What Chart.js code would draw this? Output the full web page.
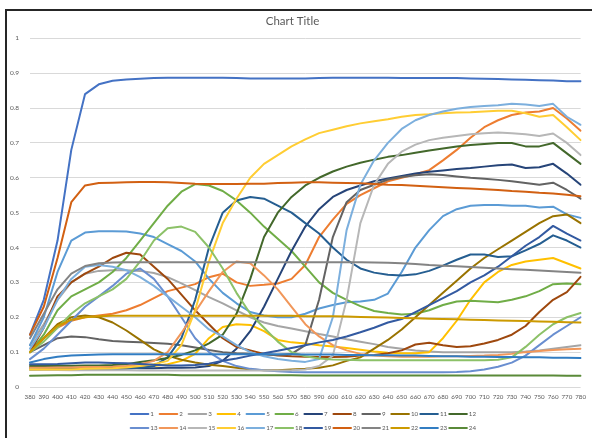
<!DOCTYPE html>
<html>
<head>
<meta charset="utf-8">
<script src="https://cdn.jsdelivr.net/npm/chart.js@4.4.1/dist/chart.umd.min.js"></script>
<style>
  html, body { margin: 0; padding: 0; background: #ffffff; overflow: hidden; }
  #wrap { position: relative; width: 592px; height: 438px; overflow: hidden; }
  #frame { position: absolute; left: 5px; top: 9px; width: 640px; height: 480px; border: 2px solid #262626; box-sizing: border-box; }
  #c { position: absolute; left: 0; top: 0; }
</style>
</head>
<body>
<div id="wrap">
  <div id="frame"></div>
  <canvas id="c" width="592" height="438"></canvas>
</div>
<script>
const wavelengths = [380,390,400,410,420,430,440,450,460,470,480,490,500,510,520,530,540,550,560,570,580,590,600,610,620,630,640,650,660,670,680,690,700,710,720,730,740,750,760,770,780];

const seriesNames = ['1','2','3','4','5','6','7','8','9','10','11','12','13','14','15','16','17','18','19','20','21','22','23','24'];

const s1 = [0.15,0.25,0.42,0.68,0.84,0.868,0.878,0.882,0.884,0.886,
  0.887,0.887,0.887,0.887,0.887,0.886,0.885,0.885,0.885,0.885,
  0.885,0.886,0.887,0.887,0.887,0.887,0.887,0.886,0.886,0.886,
  0.886,0.886,0.885,0.884,0.883,0.882,0.881,0.88,0.879,0.877,
  0.877];
const s2 = [0.1,0.14,0.17,0.19,0.2,0.205,0.21,0.22,0.235,0.255,
  0.275,0.285,0.295,0.315,0.325,0.3,0.29,0.293,0.297,0.31,
  0.35,0.43,0.48,0.525,0.55,0.57,0.59,0.6,0.61,0.622,
  0.65,0.68,0.715,0.745,0.765,0.78,0.787,0.79,0.8,0.77,
  0.735];
const s3 = [0.12,0.18,0.25,0.3,0.325,0.333,0.335,0.335,0.333,0.327,
  0.315,0.297,0.278,0.258,0.24,0.22,0.2,0.185,0.175,0.168,
  0.16,0.152,0.145,0.137,0.13,0.123,0.115,0.11,0.105,0.102,
  0.1,0.1,0.1,0.1,0.1,0.1,0.102,0.105,0.11,0.115,
  0.12];
const s4 = [0.05,0.05,0.052,0.052,0.053,0.053,0.054,0.055,0.057,0.06,
  0.065,0.075,0.095,0.14,0.172,0.18,0.178,0.16,0.135,0.128,
  0.125,0.12,0.116,0.112,0.107,0.102,0.098,0.097,0.097,0.1,
  0.14,0.19,0.25,0.3,0.33,0.35,0.36,0.365,0.37,0.355,
  0.34];
const s5 = [0.12,0.2,0.33,0.42,0.443,0.447,0.447,0.446,0.44,0.43,
  0.41,0.39,0.36,0.31,0.27,0.24,0.215,0.205,0.2,0.2,
  0.21,0.225,0.235,0.243,0.245,0.25,0.268,0.33,0.4,0.45,
  0.49,0.51,0.52,0.522,0.522,0.52,0.52,0.515,0.517,0.495,
  0.485];
const s6 = [0.1,0.15,0.22,0.26,0.28,0.3,0.33,0.37,0.42,0.47,
  0.52,0.56,0.582,0.578,0.562,0.535,0.5,0.46,0.425,0.39,
  0.345,0.3,0.27,0.25,0.232,0.218,0.212,0.208,0.21,0.22,
  0.235,0.245,0.247,0.245,0.243,0.25,0.26,0.275,0.295,0.297,
  0.295];
const s7 = [0.055,0.056,0.056,0.055,0.054,0.054,0.055,0.055,0.054,0.054,
  0.055,0.055,0.056,0.06,0.075,0.11,0.16,0.23,0.31,0.39,
  0.46,0.51,0.545,0.565,0.578,0.59,0.598,0.605,0.612,0.617,
  0.621,0.625,0.628,0.632,0.636,0.638,0.628,0.63,0.64,0.612,
  0.58];
const s8 = [0.1,0.17,0.26,0.3,0.325,0.345,0.37,0.385,0.38,0.345,
  0.31,0.265,0.22,0.18,0.14,0.115,0.105,0.095,0.09,0.088,
  0.087,0.086,0.086,0.087,0.09,0.092,0.097,0.105,0.122,0.127,
  0.12,0.115,0.117,0.125,0.135,0.15,0.175,0.215,0.25,0.272,
  0.316];
const s9 = [0.1,0.12,0.14,0.145,0.143,0.137,0.132,0.13,0.128,0.126,
  0.124,0.12,0.113,0.106,0.1,0.097,0.095,0.093,0.092,0.095,
  0.12,0.25,0.43,0.53,0.565,0.58,0.595,0.602,0.607,0.61,
  0.608,0.604,0.6,0.597,0.594,0.59,0.585,0.58,0.586,0.565,
  0.54];
const s10 = [0.1,0.14,0.18,0.2,0.205,0.2,0.185,0.162,0.135,0.108,
  0.09,0.078,0.07,0.064,0.06,0.055,0.05,0.048,0.048,0.05,
  0.052,0.055,0.062,0.075,0.085,0.11,0.135,0.165,0.2,0.235,
  0.27,0.305,0.34,0.37,0.395,0.42,0.445,0.47,0.49,0.495,
  0.47];
const s11 = [0.05,0.05,0.05,0.05,0.05,0.05,0.051,0.052,0.055,0.06,
  0.085,0.14,0.25,0.4,0.5,0.535,0.545,0.54,0.52,0.5,
  0.47,0.44,0.4,0.365,0.34,0.328,0.322,0.32,0.323,0.333,
  0.348,0.365,0.38,0.38,0.373,0.375,0.392,0.41,0.435,0.42,
  0.4];
const s12 = [0.06,0.06,0.061,0.061,0.062,0.062,0.063,0.065,0.072,0.077,
  0.083,0.092,0.105,0.125,0.15,0.21,0.31,0.43,0.5,0.545,
  0.578,0.6,0.618,0.632,0.643,0.652,0.66,0.665,0.672,0.678,
  0.684,0.69,0.694,0.697,0.7,0.7,0.69,0.69,0.7,0.67,
  0.64];
const s13 = [0.08,0.11,0.15,0.19,0.23,0.26,0.29,0.325,0.34,0.31,
  0.26,0.2,0.14,0.1,0.075,0.06,0.052,0.048,0.045,0.043,
  0.042,0.042,0.042,0.042,0.042,0.042,0.042,0.042,0.042,0.042,
  0.042,0.043,0.045,0.05,0.058,0.07,0.09,0.12,0.15,0.175,
  0.2];
const s14 = [0.055,0.055,0.056,0.056,0.057,0.057,0.058,0.06,0.065,0.075,
  0.1,0.155,0.215,0.275,0.33,0.36,0.355,0.32,0.28,0.23,
  0.18,0.145,0.12,0.105,0.095,0.09,0.088,0.087,0.087,0.087,
  0.088,0.088,0.089,0.09,0.092,0.095,0.1,0.103,0.106,0.108,
  0.11];
const s15 = [0.05,0.049,0.049,0.048,0.048,0.048,0.048,0.048,0.047,0.047,
  0.047,0.047,0.047,0.047,0.047,0.047,0.047,0.047,0.047,0.048,
  0.05,0.06,0.09,0.25,0.47,0.58,0.64,0.675,0.695,0.708,
  0.715,0.72,0.725,0.728,0.73,0.728,0.725,0.72,0.727,0.7,
  0.665];
const s16 = [0.05,0.05,0.05,0.05,0.052,0.053,0.054,0.056,0.06,0.065,
  0.075,0.12,0.22,0.36,0.47,0.54,0.6,0.64,0.665,0.69,
  0.71,0.728,0.738,0.748,0.756,0.762,0.768,0.775,0.78,0.782,
  0.785,0.787,0.788,0.79,0.792,0.792,0.785,0.775,0.78,0.745,
  0.708];
const s17 = [0.11,0.17,0.25,0.31,0.345,0.35,0.345,0.335,0.315,0.29,
  0.26,0.23,0.2,0.165,0.145,0.12,0.1,0.088,0.08,0.075,
  0.072,0.08,0.2,0.45,0.58,0.65,0.7,0.74,0.765,0.78,
  0.79,0.798,0.803,0.806,0.808,0.812,0.81,0.806,0.812,0.775,
  0.752];
const s18 = [0.1,0.13,0.17,0.21,0.24,0.26,0.28,0.31,0.36,0.42,
  0.455,0.46,0.445,0.4,0.34,0.27,0.21,0.17,0.13,0.1,
  0.088,0.082,0.079,0.078,0.077,0.077,0.077,0.077,0.077,0.077,
  0.077,0.077,0.077,0.077,0.078,0.085,0.115,0.15,0.18,0.2,
  0.212];
const s19 = [0.065,0.065,0.066,0.068,0.07,0.07,0.069,0.068,0.066,0.064,
  0.062,0.062,0.063,0.067,0.075,0.082,0.09,0.097,0.104,0.112,
  0.12,0.128,0.135,0.145,0.157,0.17,0.185,0.195,0.215,0.235,
  0.255,0.275,0.3,0.32,0.345,0.375,0.405,0.43,0.462,0.44,
  0.42];
const s20 = [0.15,0.23,0.37,0.53,0.578,0.585,0.586,0.587,0.588,0.588,
  0.587,0.585,0.583,0.582,0.582,0.582,0.583,0.583,0.585,0.586,
  0.587,0.587,0.586,0.585,0.584,0.582,0.58,0.579,0.577,0.575,
  0.573,0.571,0.569,0.567,0.565,0.562,0.56,0.557,0.555,0.551,
  0.547];
const s21 = [0.14,0.21,0.28,0.325,0.347,0.355,0.357,0.358,0.358,0.358,
  0.358,0.358,0.358,0.358,0.358,0.358,0.358,0.358,0.358,0.358,
  0.358,0.358,0.358,0.358,0.358,0.357,0.356,0.355,0.353,0.35,
  0.348,0.346,0.344,0.342,0.34,0.338,0.336,0.334,0.332,0.33,
  0.328];
const s22 = [0.1,0.14,0.175,0.193,0.2,0.203,0.204,0.204,0.204,0.204,
  0.204,0.204,0.204,0.204,0.204,0.204,0.204,0.204,0.204,0.204,
  0.203,0.203,0.203,0.202,0.201,0.2,0.199,0.198,0.197,0.196,
  0.195,0.194,0.193,0.192,0.191,0.19,0.189,0.188,0.187,0.186,
  0.185];
const s23 = [0.07,0.08,0.087,0.09,0.092,0.093,0.094,0.094,0.094,0.094,
  0.094,0.094,0.094,0.094,0.094,0.094,0.094,0.094,0.094,0.094,
  0.093,0.093,0.093,0.092,0.092,0.091,0.091,0.09,0.09,0.089,
  0.088,0.088,0.087,0.087,0.086,0.086,0.085,0.085,0.084,0.084,
  0.083];
const s24 = [0.032,0.033,0.034,0.034,0.035,0.035,0.035,0.035,0.035,0.035,
  0.035,0.034,0.034,0.034,0.034,0.034,0.034,0.034,0.034,0.034,
  0.033,0.033,0.033,0.033,0.033,0.033,0.033,0.033,0.033,0.033,
  0.033,0.033,0.033,0.033,0.033,0.033,0.033,0.033,0.033,0.032,
  0.032];

const yTicks = [0,0.1,0.2,0.3,0.4,0.5,0.6,0.7,0.8,0.9,1];

const seriesValues = [s1,s2,s3,s4,s5,s6,s7,s8,s9,s10,s11,s12,s13,s14,s15,s16,s17,s18,s19,s20,s21,s22,s23,s24];

const seriesColors = ['#4472C4','#ED7D31','#A5A5A5','#FFC000','#5B9BD5','#70AD47',
  '#264478','#9E480E','#636363','#997300','#255E91','#43682B',
  '#698ED0','#F1975A','#B7B7B7','#FFCD33','#7CAFDD','#8CC168',
  '#335AA1','#D26012','#848484','#CC9A00','#327DC2','#5A8A39'];

const FONT = 'Lato, "Liberation Sans", sans-serif';
const TEXT = '#595959';

const datasets = seriesValues.map((vals, i) => ({
  label: seriesNames[i],
  data: vals,
  borderColor: seriesColors[i],
  backgroundColor: seriesColors[i],
  borderWidth: 2,
  pointRadius: 0,
  pointHoverRadius: 0,
  tension: 0,
  fill: false,
  borderJoinStyle: 'round',
  borderCapStyle: 'round',
  order: seriesValues.length - i
}));

const gridLegend = {
  id: 'gridLegend',
  afterDraw(chart) {
    const ctx = chart.ctx;
    const left = 130.7, colW = 28.96, top = 414, rowH = 14, lineLen = 17.6;
    ctx.save();
    ctx.font = '6.2px ' + FONT;
    ctx.textBaseline = 'middle';
    ctx.textAlign = 'left';
    chart.data.datasets.forEach((ds, i) => {
      const col = i % 12, row = Math.floor(i / 12);
      const x = left + col * colW;
      const y = top + row * rowH;
      ctx.strokeStyle = ds.borderColor;
      ctx.lineWidth = 2;
      ctx.lineCap = 'round';
      ctx.beginPath();
      ctx.moveTo(x, y);
      ctx.lineTo(x + lineLen, y);
      ctx.stroke();
      ctx.fillStyle = TEXT;
      ctx.fillText(ds.label, x + lineLen + 2, y + 0.5);
    });
    ctx.restore();
  }
};

new Chart(document.getElementById('c'), {
  type: 'line',
  data: { labels: wavelengths.map(String), datasets },
  plugins: [gridLegend],
  options: {
    responsive: false,
    animation: false,
    devicePixelRatio: 1,
    events: [],
    layout: { padding: { left: 0, right: 7, top: 0, bottom: 31 } },
    plugins: {
      legend: { display: false },
      tooltip: { enabled: false },
      title: {
        display: true,
        text: 'Chart Title',
        color: TEXT,
        font: { family: FONT, size: 11.5, weight: 'normal' },
        padding: { top: 14, bottom: 10.5 }
      }
    },
    scales: {
      x: {
        offset: false,
        grid: { display: false, drawTicks: false },
        border: { display: false },
        ticks: {
          autoSkip: false, maxRotation: 0, minRotation: 0,
          color: TEXT, font: { family: FONT, size: 6.2 }, padding: 6
        },
        afterFit: (s) => { s.height = 20; }
      },
      y: {
        min: 0, max: 1,
        afterBuildTicks: (s) => { s.ticks = yTicks.map(v => ({ value: v })); },
        grid: { color: '#d9d9d9', lineWidth: 1, drawTicks: false },
        border: { display: false },
        ticks: {
          color: TEXT, font: { family: FONT, size: 6.5 }, padding: 11,
          callback: (v) => String(Number(Number(v).toFixed(1)))
        },
        afterFit: (s) => { s.width = 30; }
      }
    }
  }
});
</script>
</body>
</html>
